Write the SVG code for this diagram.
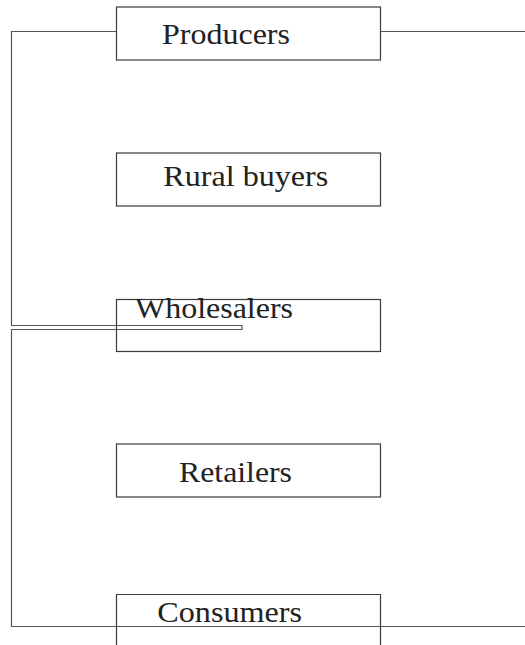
<svg xmlns="http://www.w3.org/2000/svg" width="525" height="645" viewBox="0 0 525 645">
<style>
.box{fill:none;stroke:#3a3a3a;stroke-width:1.2}
.ln{fill:none;stroke:#555;stroke-width:1.2}
.t{font-family:"Liberation Serif","Times New Roman",serif;font-size:30px;fill:#222}
</style>
<rect width="525" height="645" fill="#fff"/>
<g id="connectors">
<path class="ln" d="M116 31.5H11.5V325.5H242V329.5H11.5V626.5H525"/>
<path class="ln" d="M380.5 31.5H525"/>
</g>
<g id="producers">
<rect class="box" x="116.5" y="7" width="264" height="53"/>
<text class="t" x="162" y="43.7" textLength="128" lengthAdjust="spacingAndGlyphs">Producers</text>
</g>
<g id="rural-buyers">
<rect class="box" x="116.5" y="153" width="264" height="53"/>
<text class="t" x="163.3" y="185.7" textLength="165" lengthAdjust="spacingAndGlyphs">Rural buyers</text>
</g>
<g id="wholesalers">
<rect class="box" x="116.5" y="299.5" width="264" height="52"/>
<text class="t" x="135" y="318.3" textLength="158" lengthAdjust="spacingAndGlyphs">Wholesalers</text>
</g>
<g id="retailers">
<rect class="box" x="116.5" y="444" width="264" height="53"/>
<text class="t" x="179" y="481.7" textLength="113" lengthAdjust="spacingAndGlyphs">Retailers</text>
</g>
<g id="consumers">
<path class="box" d="M116.5 646V594.5H380.5V646"/>
<text class="t" x="157.3" y="621.7" textLength="144.7" lengthAdjust="spacingAndGlyphs">Consumers</text>
</g>
</svg>
